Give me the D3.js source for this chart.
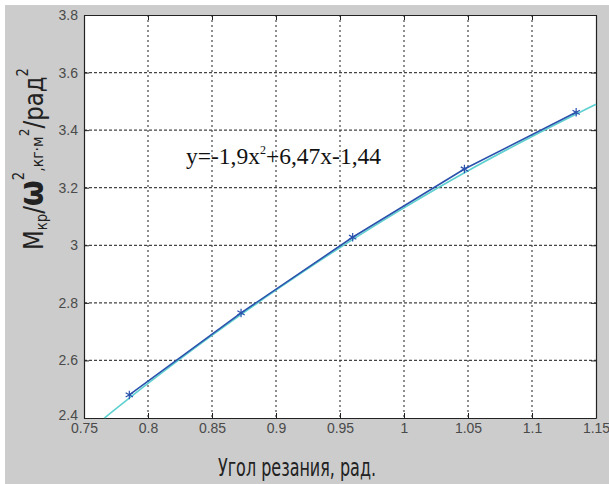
<!DOCTYPE html>
<html><head><meta charset="utf-8">
<script src="https://cdn.jsdelivr.net/npm/d3@7"></script>
<style>body{margin:0;background:#fff}svg{display:block}</style>
</head><body>
<script>
// Data
const xTicks = [0.75, 0.8, 0.85, 0.9, 0.95, 1, 1.05, 1.1, 1.15];
const yTicks = [2.4, 2.6, 2.8, 3, 3.2, 3.4, 3.6, 3.8];
const xTickLabels = ["0.75","0.8","0.85","0.9","0.95","1","1.05","1.1","1.15"];
const yTickLabels = ["2.4","2.6","2.8","3","3.2","3.4","3.6","3.8"];
const dataX = [0.7854, 0.8727, 0.9599, 1.0472, 1.1345];
const dataY = [2.48, 2.765, 3.028, 3.265, 3.462];
const fitX = [0.766, 0.8, 0.85, 0.9, 0.95, 1.0, 1.05, 1.1, 1.15];
const fitY = [2.40, 2.52, 2.687, 2.844, 2.992, 3.13, 3.259, 3.378, 3.49];

const W = 609, H = 484;
const L = 84, R = 596, T = 15, B = 418;
const svg = d3.select("body").append("svg").attr("width", W).attr("height", H);
svg.append("rect").attr("x", 5).attr("y", 5).attr("width", W - 5).attr("height", H - 5).attr("fill", "#cccccc");

const x = d3.scaleLinear().domain([0.75, 1.15]).range([L, R]);
const y = d3.scaleLinear().domain([2.4, 3.8]).range([B, T]);

svg.append("rect").attr("x", L).attr("y", T).attr("width", R - L).attr("height", B - T).attr("fill", "#fff");

// grid
const g = svg.append("g");
g.selectAll(".gx").data(xTicks.slice(1, -1)).join("line")
  .attr("x1", d => x(d)).attr("x2", d => x(d)).attr("y1", T).attr("y2", B)
  .attr("stroke", "#444").attr("stroke-width", 1.2).attr("stroke-dasharray", "2,3");
g.selectAll(".gy").data(yTicks.slice(1, -1)).join("line")
  .attr("y1", d => y(d)).attr("y2", d => y(d)).attr("x1", L).attr("x2", R)
  .attr("stroke", "#444").attr("stroke-width", 1.2).attr("stroke-dasharray", "3,2");

// axes
const fmtX = (d, i) => xTickLabels[i];
const fmtY = (d, i) => yTickLabels[i];
const xAxis = svg.append("g").attr("transform", `translate(0,${B})`)
  .call(d3.axisBottom(x).tickValues(xTicks).tickFormat(fmtX).tickSizeInner(-5).tickSizeOuter(0).tickPadding(7));
const yAxis = svg.append("g").attr("transform", `translate(${L},0)`)
  .call(d3.axisLeft(y).tickValues(yTicks).tickFormat(fmtY).tickSizeInner(-5).tickSizeOuter(0).tickPadding(6));
svg.append("g").attr("transform", `translate(0,${T})`)
  .call(d3.axisTop(x).tickValues(xTicks).tickFormat("").tickSizeInner(-5).tickSizeOuter(0));
svg.append("g").attr("transform", `translate(${R},0)`)
  .call(d3.axisRight(y).tickValues(yTicks).tickFormat("").tickSizeInner(-5).tickSizeOuter(0));
svg.selectAll(".domain").attr("stroke", "#222").attr("stroke-width", 1.2);
svg.selectAll(".tick line").attr("stroke", "#222");
svg.selectAll(".tick text").attr("font-family", "Liberation Sans, Arial, sans-serif")
  .attr("font-size", 14).attr("fill", "#4a4a4a");
xAxis.selectAll(".tick text").attr("dy", "0.6em");
yAxis.selectAll(".tick text").filter((d) => d === 2.4).attr("dy", "0.1em");

// fit curve
const line = d3.line().x(d => x(d[0])).y(d => y(d[1]));
svg.append("path").datum(fitX.map((v, i) => [v, fitY[i]]))
  .attr("d", line.curve(d3.curveMonotoneX)).attr("fill", "none")
  .attr("stroke", "#5fd0d0").attr("stroke-width", 1.6);
// data line
svg.append("path").datum(dataX.map((v, i) => [v, dataY[i]]))
  .attr("d", d3.line().x(d => x(d[0])).y(d => y(d[1]))).attr("fill", "none")
  .attr("stroke", "#2a52ad").attr("stroke-width", 1.6);
// markers
svg.selectAll(".mk").data(dataX.map((v, i) => [v, dataY[i]])).join("path")
  .attr("transform", d => `translate(${x(d[0])},${y(d[1])})`)
  .attr("d", d3.symbol(d3.symbolAsterisk, 50))
  .attr("fill", "none").attr("stroke", "#2a52ad").attr("stroke-width", 1.2);

// equation
const eq = svg.append("text").attr("x", 186).attr("y", 164)
  .attr("font-family", "Liberation Serif, Times New Roman, serif").attr("font-size", 23.5).attr("fill", "#111");
eq.append("tspan").text("y=-1,9x");
eq.append("tspan").attr("font-size", 12).attr("dy", -10).text("2");
eq.append("tspan").attr("dy", 10).text("+6,47x-1,44");

// axis labels
const labFont = "DejaVu Sans Condensed, Liberation Sans Narrow, DejaVu Sans, sans-serif";
svg.append("text").attr("x", 297).attr("y", 476).attr("text-anchor", "middle")
  .attr("font-family", labFont).attr("font-stretch", "condensed").attr("font-size", 24).attr("fill", "#222")
  .attr("textLength", 158).attr("lengthAdjust", "spacingAndGlyphs")
  .text("Угол резания, рад.");

const yl = svg.append("text")
  .attr("text-anchor", "middle").attr("font-family", labFont).attr("font-stretch", "condensed")
  .attr("font-size", 26).attr("fill", "#222");
yl.append("tspan").text("M");
yl.append("tspan").attr("font-size", 15).attr("dy", 4).text("кр");
yl.append("tspan").attr("dy", -4).text("/");
yl.append("tspan").attr("font-size", 34).attr("font-weight", "bold").text("ω");
yl.append("tspan").attr("font-size", 15).attr("dy", -19).text("2");
yl.append("tspan").attr("font-size", 16).attr("dy", 19).text(",кг·м");
yl.append("tspan").attr("font-size", 14).attr("dy", -14).text("2");
yl.append("tspan").attr("dy", 14).text("/рад");
yl.append("tspan").attr("font-size", 15).attr("dy", -15).text("2");
const len = yl.node().getComputedTextLength();
const sc = 182 / len;
yl.attr("transform", `translate(43,159) rotate(-90) scale(${sc},1)`);
</script>
</body></html>
